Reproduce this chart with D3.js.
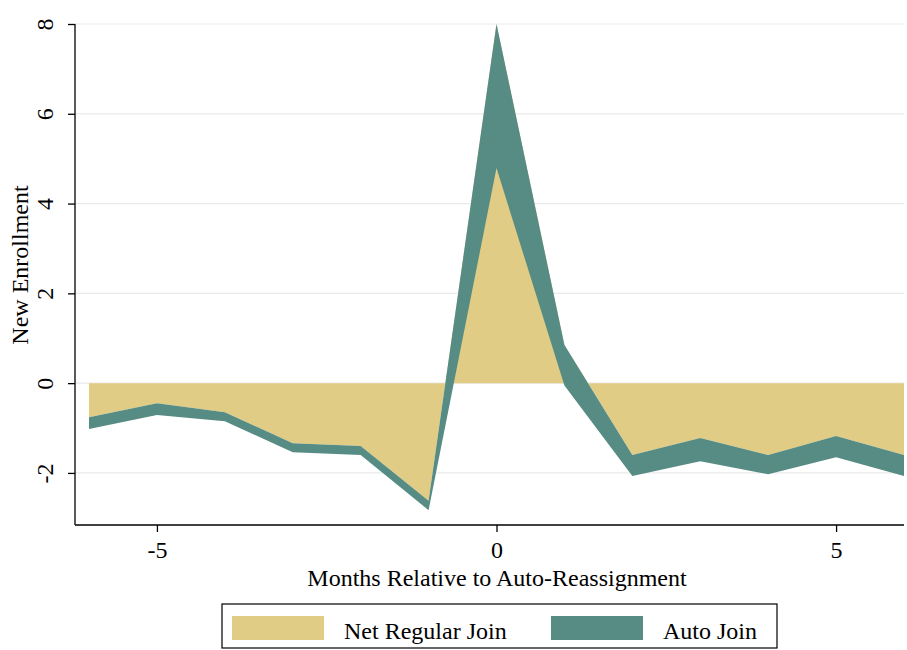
<!DOCTYPE html>
<html><head><meta charset="utf-8">
<script src="https://cdn.jsdelivr.net/npm/d3@7"></script>
<style>body{margin:0;background:#fff}svg text{font-family:"Liberation Serif","Times New Roman",serif}</style>
</head><body><div id="chart"></div>
<script>
// months relative to auto-reassignment
const months = [-6, -5, -4, -3, -2, -1, 0, 1, 2, 3, 4, 5, 6];
// upper edge of the auto join band (tan area reaches this line)
const upperEdge = [-0.76, -0.45, -0.65, -1.34, -1.40, -2.62, 8.0, 0.85, -1.60, -1.22, -1.60, -1.18, -1.60];
// lower edge of the auto join band
const lowerEdge = [-1.02, -0.71, -0.85, -1.54, -1.60, -2.83, 4.79, -0.05, -2.07, -1.74, -2.03, -1.65, -2.07];
const yTicks = [-2, 0, 2, 4, 6, 8];
const xTicks = [-5, 0, 5];

const W = 907, H = 650;
const svg = d3.select('#chart').append('svg').attr('width', W).attr('height', H);

const x = d3.scaleLinear().domain([-6, 6]).range([89, 904]);
const y = d3.scaleLinear().domain([-3.16, 8]).range([525, 24]);
const fmt = d => String(d).replace('\u2212', '-');
const FS = '24px';

// gridlines
svg.append('g').selectAll('line').data(yTicks).enter().append('line')
    .attr('x1', 75).attr('x2', 904)
    .attr('y1', d => y(d)).attr('y2', d => y(d))
    .style('stroke', '#eaeaea').style('stroke-width', 1.2);

const data = months.map((m, i) => ({ m, hi: upperEdge[i], lo: lowerEdge[i] }));

svg.append('path').datum(data)
    .attr('d', d3.area().x(d => x(d.m)).y0(y(0)).y1(d => y(d.hi)))
    .style('fill', '#e0cc85');

svg.append('path').datum(data)
    .attr('d', d3.area().x(d => x(d.m)).y0(d => y(d.lo)).y1(d => y(d.hi)))
    .style('fill', '#568c84');

// axes
const yAxis = svg.append('g').attr('transform', 'translate(75,0)')
    .call(d3.axisLeft(y).tickValues(yTicks).tickFormat(fmt).tickSize(7).tickSizeOuter(0));
yAxis.select('.domain').attr('d', `M0,${y(8)}V525`);
yAxis.selectAll('text').attr('transform', 'rotate(-90)')
    .attr('x', 0).attr('y', -22).attr('dy', 0)
    .attr('text-anchor', 'middle').style('font-size', FS);

const xAxis = svg.append('g').attr('transform', 'translate(0,525)')
    .call(d3.axisBottom(x).tickValues(xTicks).tickFormat(fmt).tickSize(7).tickSizeOuter(0));
xAxis.select('.domain').attr('d', 'M75,0H904');
xAxis.selectAll('text').attr('y', 16).style('font-size', FS);
svg.selectAll('.domain, .tick line').style('stroke', '#000').style('stroke-width', 1.3);

svg.append('text').attr('x', 497).attr('y', 586).attr('text-anchor', 'middle')
    .style('font-size', FS).text('Months Relative to Auto-Reassignment');
svg.append('text').attr('transform', 'translate(28,265) rotate(-90)').attr('text-anchor', 'middle')
    .style('font-size', FS).text('New Enrollment');

// legend
const lg = svg.append('g');
lg.append('rect').attr('x', 222).attr('y', 604).attr('width', 555).attr('height', 44)
    .style('fill', '#fff').style('stroke', '#000').style('stroke-width', 1.2);
const items = [['Net Regular Join', '#e0cc85', 232], ['Auto Join', '#568c84', 551]];
items.forEach(([t, c, lx]) => {
    lg.append('rect').attr('x', lx).attr('y', 616).attr('width', 92).attr('height', 24).style('fill', c);
    lg.append('text').attr('x', lx + 112).attr('y', 639).style('font-size', FS).text(t);
});
</script></body></html>
